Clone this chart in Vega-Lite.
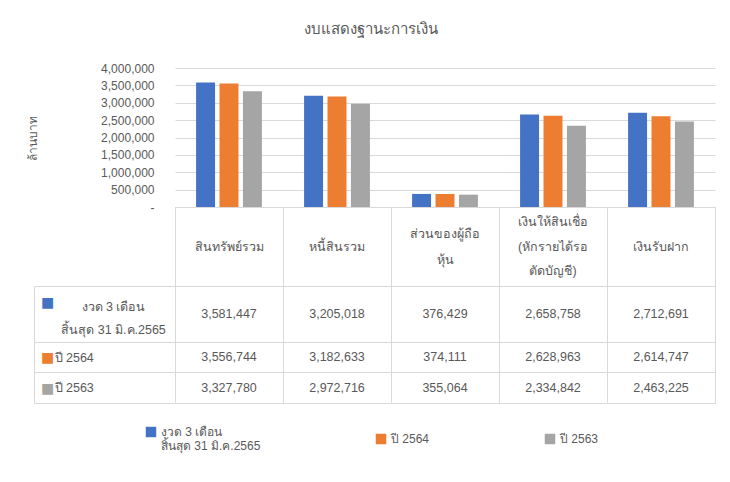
{
  "$schema": "https://vega.github.io/schema/vega-lite/v6.json",
  "background": "white",
  "padding": {"left": 26, "top": 22, "right": 15, "bottom": 10},
  "title": {"text": "งบแสดงฐานะการเงิน", "fontSize": 15, "fontWeight": "normal", "color": "#595959", "anchor": "middle", "offset": 25},
  "datasets": {
    "d": [
      {"category": "สินทรัพย์รวม", "series": "งวด 3 เดือน\nสิ้นสุด 31 มิ.ค.2565", "value": 3581447},
      {"category": "หนี้สินรวม", "series": "งวด 3 เดือน\nสิ้นสุด 31 มิ.ค.2565", "value": 3205018},
      {"category": "ส่วนของผู้ถือ\nหุ้น", "series": "งวด 3 เดือน\nสิ้นสุด 31 มิ.ค.2565", "value": 376429},
      {"category": "เงินให้สินเชื่อ\n(หักรายได้รอ\nตัดบัญชี)", "series": "งวด 3 เดือน\nสิ้นสุด 31 มิ.ค.2565", "value": 2658758},
      {"category": "เงินรับฝาก", "series": "งวด 3 เดือน\nสิ้นสุด 31 มิ.ค.2565", "value": 2712691},
      {"category": "สินทรัพย์รวม", "series": "ปี 2564", "value": 3556744},
      {"category": "หนี้สินรวม", "series": "ปี 2564", "value": 3182633},
      {"category": "ส่วนของผู้ถือ\nหุ้น", "series": "ปี 2564", "value": 374111},
      {"category": "เงินให้สินเชื่อ\n(หักรายได้รอ\nตัดบัญชี)", "series": "ปี 2564", "value": 2628963},
      {"category": "เงินรับฝาก", "series": "ปี 2564", "value": 2614747},
      {"category": "สินทรัพย์รวม", "series": "ปี 2563", "value": 3327780},
      {"category": "หนี้สินรวม", "series": "ปี 2563", "value": 2972716},
      {"category": "ส่วนของผู้ถือ\nหุ้น", "series": "ปี 2563", "value": 355064},
      {"category": "เงินให้สินเชื่อ\n(หักรายได้รอ\nตัดบัญชี)", "series": "ปี 2563", "value": 2334842},
      {"category": "เงินรับฝาก", "series": "ปี 2563", "value": 2463225}
    ]
  },
  "data": {"name": "d"},
  "vconcat": [
    {
      "width": 540, "height": 139,
      "mark": {"type": "bar"},
      "encoding": {
        "x": {"field": "category", "type": "nominal", "scale": {"domain": ["สินทรัพย์รวม", "หนี้สินรวม", "ส่วนของผู้ถือ\nหุ้น", "เงินให้สินเชื่อ\n(หักรายได้รอ\nตัดบัญชี)", "เงินรับฝาก"], "paddingInner": 0, "paddingOuter": 0}, "axis": null},
        "xOffset": {"field": "series", "type": "nominal", "scale": {"domain": ["งวด 3 เดือน\nสิ้นสุด 31 มิ.ค.2565", "ปี 2564", "ปี 2563"], "paddingInner": 0.19, "paddingOuter": 0.9}},
        "y": {"field": "value", "type": "quantitative", "scale": {"domain": [0, 4000000]},
          "axis": {"tickCount": 8, "grid": true, "gridColor": "#d9d9d9", "domain": false, "ticks": false, "tickSize": 0, "labelPadding": 21, "format": ",d", "labelExpr": "datum.value == 0 ? '-' : datum.label", "labelFontSize": 12, "labelColor": "#595959", "title": "ล้านบาท", "titleX": -143, "titleBaseline": "middle", "titleFontWeight": "normal", "titleFontSize": 12, "titleColor": "#595959"}},
        "color": {"field": "series", "type": "nominal", "scale": {"domain": ["งวด 3 เดือน\nสิ้นสุด 31 มิ.ค.2565", "ปี 2564", "ปี 2563"], "range": ["#4472C4", "#ED7D31", "#A5A5A5"]},
          "legend": {"orient": "none", "legendX": -30, "legendY": 358, "direction": "horizontal", "title": null, "symbolType": "square", "symbolSize": 110, "symbolStrokeWidth": 0, "labelExpr": "split(datum.label, '\\n')", "columnPadding": 114, "labelFontSize": 12, "labelColor": "#595959", "labelLimit": 300}}
      },
      "view": {"stroke": null}
    },
    {
      "width": 540, "height": 79,
      "transform": [{"filter": {"field": "series", "equal": "ปี 2564"}}],
      "encoding": {
        "x": {"field": "category", "type": "nominal", "scale": {"domain": ["สินทรัพย์รวม", "หนี้สินรวม", "ส่วนของผู้ถือ\nหุ้น", "เงินให้สินเชื่อ\n(หักรายได้รอ\nตัดบัญชี)", "เงินรับฝาก"], "paddingInner": 0, "paddingOuter": 0}, "axis": {"grid": true, "tickBand": "extent", "labels": false, "ticks": false, "domain": false, "title": null, "gridColor": "#d9d9d9"}},
        "text": {"field": "category", "type": "nominal"}
      },
      "layer": [
        {
          "transform": [{"filter": {"field": "category", "oneOf": ["สินทรัพย์รวม", "หนี้สินรวม", "เงินรับฝาก"]}}],
          "mark": {"type": "text", "fontSize": 12.5, "color": "#595959"}
        },
        {
          "transform": [{"filter": {"field": "category", "equal": "ส่วนของผู้ถือ\nหุ้น"}}],
          "mark": {"type": "text", "lineBreak": "\n", "lineHeight": 26, "dy": -13, "fontSize": 12.5, "color": "#595959"}
        },
        {
          "transform": [{"filter": {"field": "category", "equal": "เงินให้สินเชื่อ\n(หักรายได้รอ\nตัดบัญชี)"}}],
          "mark": {"type": "text", "lineBreak": "\n", "lineHeight": 24.5, "dy": -24.5, "fontSize": 12.5, "color": "#595959"}
        }
      ],
      "view": {"stroke": "#d9d9d9"}
    },
    {
      "width": 540, "height": 56,
      "transform": [{"filter": {"field": "series", "equal": "งวด 3 เดือน\nสิ้นสุด 31 มิ.ค.2565"}}],
      "mark": {"type": "text", "fontSize": 12.5, "color": "#595959"},
      "encoding": {
        "x": {"field": "category", "type": "nominal", "scale": {"domain": ["สินทรัพย์รวม", "หนี้สินรวม", "ส่วนของผู้ถือ\nหุ้น", "เงินให้สินเชื่อ\n(หักรายได้รอ\nตัดบัญชี)", "เงินรับฝาก"], "paddingInner": 0, "paddingOuter": 0}, "axis": {"grid": true, "tickBand": "extent", "labels": false, "ticks": false, "domain": false, "title": null, "gridColor": "#d9d9d9"}},
        "y": {"field": "series", "type": "nominal", "axis": {"offset": 141, "domain": true, "domainColor": "#d9d9d9", "ticks": true, "tickBand": "extent", "tickSize": -141, "tickColor": "#d9d9d9", "title": "■", "titleColor": "#4472C4", "titleAngle": 0, "titleX": 13, "titleY": 16, "titleAlign": "center", "titleBaseline": "middle", "titleFontSize": 14, "titleFont": "DejaVu Sans", "labelExpr": "split(datum.label, '\\n')", "labelAlign": "center", "labelPadding": 62, "labelLineHeight": 23, "labelOffset": -8, "labelFontSize": 12.5, "labelColor": "#595959", "labelLimit": 200}},
        "text": {"field": "value", "type": "quantitative", "format": ","}
      },
      "view": {"stroke": "#d9d9d9"}
    },
    {
      "width": 540, "height": 30,
      "transform": [{"filter": {"field": "series", "equal": "ปี 2564"}}],
      "mark": {"type": "text", "fontSize": 12.5, "color": "#595959"},
      "encoding": {
        "x": {"field": "category", "type": "nominal", "scale": {"domain": ["สินทรัพย์รวม", "หนี้สินรวม", "ส่วนของผู้ถือ\nหุ้น", "เงินให้สินเชื่อ\n(หักรายได้รอ\nตัดบัญชี)", "เงินรับฝาก"], "paddingInner": 0, "paddingOuter": 0}, "axis": {"grid": true, "tickBand": "extent", "labels": false, "ticks": false, "domain": false, "title": null, "gridColor": "#d9d9d9"}},
        "y": {"field": "series", "type": "nominal", "axis": {"offset": 141, "domain": true, "domainColor": "#d9d9d9", "ticks": true, "tickBand": "extent", "tickSize": -141, "tickColor": "#d9d9d9", "title": "■", "titleColor": "#ED7D31", "titleAngle": 0, "titleX": 13, "titleY": 15, "titleAlign": "center", "titleBaseline": "middle", "titleFontSize": 14, "titleFont": "DejaVu Sans", "labelAlign": "left", "labelPadding": 121, "labelFontSize": 12.5, "labelColor": "#595959"}},
        "text": {"field": "value", "type": "quantitative", "format": ","}
      },
      "view": {"stroke": "#d9d9d9"}
    },
    {
      "width": 540, "height": 31,
      "transform": [{"filter": {"field": "series", "equal": "ปี 2563"}}],
      "mark": {"type": "text", "fontSize": 12.5, "color": "#595959"},
      "encoding": {
        "x": {"field": "category", "type": "nominal", "scale": {"domain": ["สินทรัพย์รวม", "หนี้สินรวม", "ส่วนของผู้ถือ\nหุ้น", "เงินให้สินเชื่อ\n(หักรายได้รอ\nตัดบัญชี)", "เงินรับฝาก"], "paddingInner": 0, "paddingOuter": 0}, "axis": {"grid": true, "tickBand": "extent", "labels": false, "ticks": false, "domain": false, "title": null, "gridColor": "#d9d9d9"}},
        "y": {"field": "series", "type": "nominal", "axis": {"offset": 141, "domain": true, "domainColor": "#d9d9d9", "ticks": true, "tickBand": "extent", "tickSize": -141, "tickColor": "#d9d9d9", "title": "■", "titleColor": "#A5A5A5", "titleAngle": 0, "titleX": 13, "titleY": 16, "titleAlign": "center", "titleBaseline": "middle", "titleFontSize": 14, "titleFont": "DejaVu Sans", "labelAlign": "left", "labelPadding": 121, "labelFontSize": 12.5, "labelColor": "#595959"}},
        "text": {"field": "value", "type": "quantitative", "format": ","}
      },
      "view": {"stroke": "#d9d9d9"}
    }
  ],
  "spacing": 0,
  "bounds": "flush",
  "config": {
    "font": "Liberation Sans",
    "axis": {"labelFont": "Liberation Sans", "titleFont": "Liberation Sans"},
    "legend": {"labelFont": "Liberation Sans"},
    "title": {"font": "Liberation Sans"}
  }
}
